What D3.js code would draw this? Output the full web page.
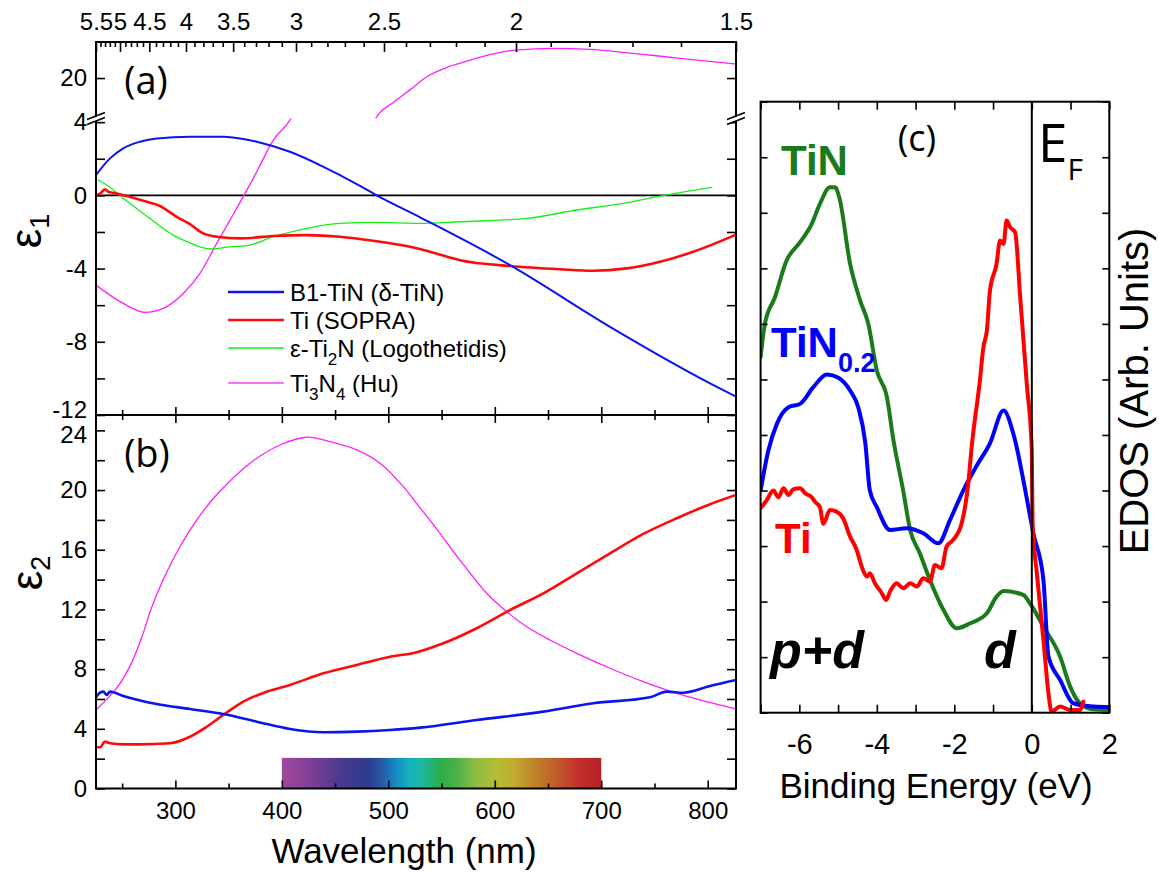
<!DOCTYPE html>
<html><head><meta charset="utf-8">
<script src="https://cdn.jsdelivr.net/npm/d3@7"></script>
<style>
body{margin:0;background:#fff}
svg{display:block}
text{font-family:"Liberation Sans",Arial,sans-serif;fill:#000}
</style></head>
<body><svg id="chart" width="1159" height="875"></svg>
<script>
// ---------------- DATA ----------------
// Panel (a): epsilon1 vs wavelength (nm)
const tinE1 = [[225.4,1.11],[238.6,2.02],[251.0,2.57],[266.7,2.93],[282.4,3.11],[313.7,3.2],[345.0,3.2],[360.7,3.11],[376.4,2.93],[407.6,2.38],[439.1,1.56],[470.3,0.62],[489.1,0],[529.8,-1.2],[614.3,-3.81],[708.2,-7.18],[802.2,-10.27],[826.6,-11.0]];
const tiE1 = [[225.4,0.02],[229.2,0.1],[233.9,0.33],[237.0,0.2],[241.7,0.14],[254.2,-0.04],[269.8,-0.3],[285.5,-0.58],[301.2,-1.17],[313.7,-1.57],[326.2,-2.08],[338.8,-2.26],[360.7,-2.35],[392.0,-2.22],[423.3,-2.17],[454.6,-2.26],[485.9,-2.48],[520.4,-2.81],[539.1,-3.08],[567.3,-3.54],[614.3,-3.86],[661.3,-4.04],[692.5,-4.12],[723.9,-3.99],[755.2,-3.63],[786.5,-3.08],[825.6,-2.17]];
const ti2nE1 = [[227.6,0.84],[238.6,0.44],[251.0,-0.16],[276.1,-1.26],[298.0,-2.17],[313.7,-2.59],[332.5,-2.93],[351.3,-2.81],[367.0,-2.75],[392.0,-2.26],[423.3,-1.8],[454.6,-1.53],[485.9,-1.48],[529.8,-1.53],[567.3,-1.44],[630.0,-1.26],[677.0,-0.8],[720.7,-0.44],[755.2,-0.04],[803.8,0.44]];
const ti3n4E1 = [[225.4,-4.9],[251.0,-5.9],[271.4,-6.39],[288.6,-6.17],[307.4,-5.36],[323.1,-4.26],[338.8,-2.62],[351.3,-1.35],[364.4,0],[376.4,1.29],[392.0,3.02],[407.6,4.11],[449.9,11.0],[491.4,18.07],[503.6,18.62],[520.0,19.34],[536.2,20.07],[556.6,20.62],[577.0,20.98],[597.4,21.31],[619.7,21.53],[654.7,21.62],[689.5,21.57],[729.8,21.35],[774.0,21.08],[826.6,20.77]];
// Panel (b): epsilon2 vs wavelength (nm)
const tinE2 = [[225.4,6.11],[229.2,6.42],[232.3,6.49],[235.5,6.27],[238.6,6.49],[251.0,6.2],[282.4,5.66],[313.7,5.33],[345.0,4.99],[376.4,4.48],[407.6,3.99],[439.1,3.77],[470.3,3.81],[501.6,3.92],[529.8,4.08],[583.0,4.59],[645.6,5.15],[692.5,5.71],[745.8,6.11],[761.5,6.49],[777.1,6.42],[802.2,6.87],[826.6,7.27]];
const tiE2 = [[225.4,2.8],[229.2,2.76],[233.9,3.14],[238.6,3.03],[251.0,2.96],[266.7,2.96],[294.9,3.03],[313.7,3.47],[329.4,4.14],[345.0,4.93],[363.8,5.82],[385.7,6.49],[407.6,6.94],[439.1,7.72],[470.3,8.28],[501.6,8.83],[525.0,9.1],[551.6,9.73],[583.0,10.74],[614.3,11.96],[645.6,13.08],[677.0,14.42],[708.2,15.76],[739.5,17.06],[770.9,18.11],[802.2,19.05],[826.6,19.67]];
const ti3n4E2 = [[225.4,5.26],[244.8,6.72],[257.3,8.2],[268.3,10.1],[277.0,12.0],[288.0,13.9],[302.7,16.0],[323.1,18.3],[340.3,19.8],[370.1,21.8],[398.2,23.02],[423.3,23.54],[445.2,23.24],[470.3,22.69],[492.2,21.8],[514.1,20.23],[529.8,18.8],[539.1,17.99],[567.3,15.31],[592.4,13.08],[611.2,11.85],[630.0,10.84],[651.9,9.95],[677.0,9.06],[708.2,8.06],[739.5,7.16],[770.9,6.38],[826.6,5.33]];
// Panel (c): EDOS vs binding energy (eV)
const tinDos = [[-7.0,6.4],[-6.89,7.0],[-6.63,7.48],[-6.33,8.14],[-5.98,8.47],[-5.68,8.8],[-5.47,9.16],[-5.21,9.46],[-5.08,9.46],[-4.97,9.28],[-4.69,8.08],[-4.43,7.42],[-4.22,7.0],[-4.0,6.16],[-3.74,5.68],[-3.57,4.9],[-3.32,4.0],[-3.14,3.29],[-2.89,2.87],[-2.63,2.39],[-2.28,1.85],[-1.94,1.52],[-1.59,1.61],[-1.16,1.79],[-0.91,2.09],[-0.73,2.19],[-0.22,2.12],[-0.05,1.97],[0.3,1.55],[0.73,1.01],[0.99,0.47],[1.24,0.17],[1.59,0.06],[2.0,0.05]];
const tin02Dos = [[-7.0,4.0],[-6.8,4.72],[-6.58,5.2],[-6.28,5.5],[-5.98,5.56],[-5.64,5.86],[-5.29,6.09],[-4.99,6.03],[-4.69,5.8],[-4.48,5.5],[-4.3,4.87],[-4.18,4.0],[-4.0,3.7],[-3.66,3.29],[-3.23,3.32],[-2.8,3.23],[-2.41,3.05],[-2.11,3.47],[-1.77,4.0],[-1.42,4.45],[-1.08,4.85],[-0.73,5.44],[-0.48,5.03],[-0.39,4.78],[-0.22,4.19],[0.04,3.23],[0.3,2.39],[0.43,1.01],[0.73,0.59],[1.07,0.17],[1.59,0.11],[2.0,0.1]];
const tiDos = [[-7.0,3.68],[-6.84,3.83],[-6.67,4.0],[-6.54,3.88],[-6.41,4.04],[-6.28,3.92],[-6.16,4.02],[-5.98,4.04],[-5.85,3.95],[-5.68,3.88],[-5.6,3.8],[-5.47,3.7],[-5.38,3.4],[-5.21,3.65],[-5.04,3.62],[-4.87,3.5],[-4.69,3.17],[-4.52,2.93],[-4.39,2.63],[-4.26,2.45],[-4.18,2.51],[-4.05,2.33],[-3.87,2.15],[-3.76,2.03],[-3.66,2.18],[-3.49,2.33],[-3.32,2.24],[-3.14,2.33],[-2.97,2.27],[-2.8,2.42],[-2.63,2.36],[-2.5,2.66],[-2.33,2.6],[-2.2,2.99],[-2.03,3.11],[-1.81,3.41],[-1.64,4.13],[-1.55,4.8],[-1.34,5.98],[-1.25,6.58],[-1.16,6.88],[-1.08,7.6],[-0.91,8.08],[-0.82,8.5],[-0.73,8.44],[-0.65,8.86],[-0.56,8.74],[-0.43,8.65],[-0.3,7.48],[-0.13,5.92],[0.0,4.72],[0.02,3.4],[0.13,2.51],[0.3,1.31],[0.43,0.35],[0.51,0.02],[0.73,0.11],[0.99,0.05],[1.24,0.05],[1.33,0.2]];

// Tick values / labels
const nmMajor = [300,400,500,600,700,800];
const nmMinor = [250,350,450,550,650,750];
const evMajor = [5.5,5,4.5,4,3.5,3,2.5,2,1.5];
const evMinor = d3.range(16,55).map(d=>d/10).filter(e=>Math.abs(e*2-Math.round(e*2))>1e-6);
const e1Major = [-12,-8,-4,0,4];
const e1Minor = [-10,-6,-2,2];
const e1UpperMajor = [20];
const e2Major = [0,4,8,12,16,20,24];
const e2Minor = [2,6,10,14,18,22];
const beMajor = [-6,-4,-2,0,2];
const beMinor = [-7,-5,-3,-1,1];
const dosTicks = d3.range(0,12);
const rainbowStops = [[400,"#a1489b"],[425,"#823f97"],[455,"#4b3a8d"],[480,"#2e3b8e"],[492,"#2a52a2"],[505,"#1585c2"],[520,"#15b3be"],[532,"#1cb9a0"],[548,"#2aad4b"],[562,"#45b148"],[582,"#8dbd43"],[602,"#b5bc33"],[618,"#c1ab30"],[640,"#c07d2a"],[660,"#c0582b"],[680,"#bf2d2a"],[700,"#b72127"]];

// ---------------- SCALES ----------------
const hc = 1239.84;
const x = d3.scaleLinear().domain([hc/5.5, hc/1.5]).range([96, 736]);
const yA = d3.scaleLinear().domain([-12, 4.2]).range([415, 118.5]);
const yAu = d3.scaleLinear().domain([17.79, 21.97]).range([118.5, 42]);
const yB = d3.scaleLinear().domain([0, 25.03]).range([788.5, 415]);
const xC = d3.scaleLinear().domain([-7, 2]).range([760.6, 1109.3]);
const yC = d3.scaleLinear().domain([0, 11]).range([712.7, 101.7]);

const svg = d3.select("#chart");
const defs = svg.append("defs");
function clip(id, x0, y0, x1, y1){
  defs.append("clipPath").attr("id", id).append("rect")
    .attr("x", x0).attr("y", y0).attr("width", x1-x0).attr("height", y1-y0);
}
clip("cA", x.range()[0], yA.range()[1], x.range()[1], yA.range()[0]);
clip("cAu", x.range()[0], yAu.range()[1], x.range()[1], yAu.range()[0]);
clip("cB", x.range()[0], yB.range()[1], x.range()[1], yB.range()[0]);
clip("cC", xC.range()[0], yC.range()[1], xC.range()[1], yC.range()[0]);

// rainbow bar
const grad = defs.append("linearGradient").attr("id","rainbow").attr("x1","0%").attr("x2","100%").attr("y1","0%").attr("y2","0%");
rainbowStops.forEach(s=>grad.append("stop").attr("offset", ((s[0]-400)/300*100)+"%").attr("stop-color", s[1]));
svg.append("rect").attr("x", x(400)).attr("width", x(700)-x(400))
  .attr("y", yB(2.05)).attr("height", yB(0)-yB(2.05)).attr("fill","url(#rainbow)");

// zero line in (a)
svg.append("line").attr("x1", x.range()[0]).attr("x2", x.range()[1])
  .attr("y1", yA(0)).attr("y2", yA(0)).attr("stroke","#000").attr("stroke-width",1.6);

// ---------------- CURVES ----------------
function drawLine(data, xs, ys, clipId, color, width, curve){
  svg.append("path").datum(data)
    .attr("clip-path", `url(#${clipId})`)
    .attr("fill","none").attr("stroke", color).attr("stroke-width", width)
    .attr("stroke-linejoin","round").attr("stroke-linecap","round")
    .attr("d", d3.line().x(d=>xs(d[0])).y(d=>ys(d[1])).curve(curve || d3.curveMonotoneX));
}
const BLUE="#0a14f0", RED="#ff0a0a", LGREEN="#14f014", MAG="#ff1eff", DGREEN="#1a7b1a";
drawLine(ti3n4E1, x, yA, "cA", MAG, 1.3);
drawLine(ti3n4E1, x, yAu, "cAu", MAG, 1.3);
drawLine(ti2nE1, x, yA, "cA", LGREEN, 1.3);
drawLine(tiE1, x, yA, "cA", RED, 2.6);
drawLine(tinE1, x, yA, "cA", BLUE, 2);

drawLine(ti3n4E2, x, yB, "cB", MAG, 1.3, d3.curveCatmullRom.alpha(0.5));
drawLine(tiE2, x, yB, "cB", RED, 2.6);
drawLine(tinE2, x, yB, "cB", BLUE, 2.6);

drawLine(tinDos, xC, yC, "cC", DGREEN, 4, d3.curveMonotoneX);
drawLine(tin02Dos, xC, yC, "cC", "#0000ff", 4, d3.curveMonotoneX);
drawLine(tiDos, xC, yC, "cC", "#ff0000", 4, d3.curveMonotoneX);

// E_F line
svg.append("line").attr("x1", xC(0)).attr("x2", xC(0)).attr("y1", yC(0)).attr("y2", yC(11))
  .attr("stroke","#000").attr("stroke-width",2);

// ---------------- AXES ----------------
function axis(gen, scale, vals, size, fmt, fs, pad, tx, ty){
  const a = gen(scale).tickValues(vals).tickSizeInner(size).tickSizeOuter(0).tickPadding(pad)
    .tickFormat(fmt || (()=>""));
  const g = svg.append("g").attr("transform",`translate(${tx},${ty})`).call(a);
  g.select(".domain").remove();
  g.selectAll(".tick line").attr("stroke","#000").attr("stroke-width",1.6);
  g.selectAll(".tick text").attr("font-size", fs).attr("fill","#000")
    .style("font-family", '"Liberation Sans",Arial,sans-serif');
  return g;
}
const L=x.range()[0], R=x.range()[1];
// bottom wavelength axis
axis(d3.axisBottom, x, nmMajor, -8, d=>d, 24, 13, 0, yB(0));
axis(d3.axisBottom, x, nmMinor, -5, null, 24, 13, 0, yB(0));
// shared border between (a) and (b)
axis(d3.axisBottom, x, nmMajor, 8, null, 24, 13, 0, yB.range()[1]);
axis(d3.axisBottom, x, nmMinor, 5, null, 24, 13, 0, yB.range()[1]);
axis(d3.axisTop, x, nmMajor, 8, null, 24, 13, 0, yA.range()[0]);
axis(d3.axisTop, x, nmMinor, 5, null, 24, 13, 0, yA.range()[0]);
// top eV axis
axis(d3.axisTop, x, evMajor.map(e=>hc/e), -10, (d,i)=>String(evMajor[i]), 24, 12, 0, yAu.range()[1]);
axis(d3.axisTop, x, evMinor.map(e=>hc/e), -5, null, 24, 12, 0, yAu.range()[1]);
// left / right axes (a)
const gA = axis(d3.axisLeft, yA, e1Major, -9, d=>d, 24, 9, L, 0);
gA.selectAll(".tick text").filter(d=>d===-12).attr("dy","0.12em");
axis(d3.axisLeft, yA, e1Minor, -9, null, 24, 9, L, 0);
axis(d3.axisLeft, yAu, e1UpperMajor, -9, d=>d, 24, 9, L, 0);
axis(d3.axisRight, yA, e1Major.concat(e1Minor), -9, null, 24, 9, R, 0);
axis(d3.axisRight, yAu, e1UpperMajor, -9, null, 24, 9, R, 0);
// left / right axes (b)
const gB = axis(d3.axisLeft, yB, e2Major, -9, d=>d, 24, 9, L, 0);
gB.selectAll(".tick text").filter(d=>d===24).attr("dy","0.5em");
axis(d3.axisLeft, yB, e2Minor, -9, null, 24, 9, L, 0);
axis(d3.axisRight, yB, e2Major.concat(e2Minor), -9, null, 24, 9, R, 0);
// panel (c)
axis(d3.axisBottom, xC, beMajor, -8, d=>d, 29, 21, 0, yC(0));
axis(d3.axisBottom, xC, beMinor, -8, null, 29, 21, 0, yC(0));
axis(d3.axisTop, xC, beMajor.concat(beMinor), -8, null, 29, 21, 0, yC(11));
axis(d3.axisLeft, yC, dosTicks, -7, null, 29, 9, xC(-7), 0);
axis(d3.axisRight, yC, dosTicks, -7, null, 29, 9, xC(2), 0);

// frames
function frame(x0,y0,x1,y1){
  svg.append("rect").attr("x",x0).attr("y",y0).attr("width",x1-x0).attr("height",y1-y0)
    .attr("fill","none").attr("stroke","#000").attr("stroke-width",2);
}
frame(L, yAu.range()[1], R, yA.range()[0]);
frame(L, yB.range()[1], R, yB.range()[0]);
frame(xC.range()[0], yC.range()[1], xC.range()[1], yC.range()[0]);

// axis break marks
[L, R].forEach(ax=>{
  const yb = yA.range()[1];
  svg.append("polygon").attr("points",`${ax-9},${yb+2} ${ax+9},${yb-5} ${ax+9},${yb-1} ${ax-9},${yb+6}`).attr("fill","#fff");
  [0,5].forEach(o=>svg.append("line").attr("x1",ax-9).attr("y1",yb+1+o).attr("x2",ax+9).attr("y2",yb-6+o)
    .attr("stroke","#000").attr("stroke-width",1.6));
});

// ---------------- TEXT ----------------
svg.append("text").attr("x",404).attr("y",863).attr("text-anchor","middle")
  .attr("font-size",35).text("Wavelength (nm)");
const e1 = svg.append("text").attr("transform",`translate(41,231) rotate(-90)`).attr("text-anchor","middle").attr("font-size",44);
e1.append("tspan").text("ε"); e1.append("tspan").attr("font-size",27).attr("dy",8).text("1");
const e2 = svg.append("text").attr("transform",`translate(42,573) rotate(-90)`).attr("text-anchor","middle").attr("font-size",44);
e2.append("tspan").text("ε"); e2.append("tspan").attr("font-size",27).attr("dy",8).text("2");

const OS = '"Open Sans","Noto Sans",sans-serif';
svg.append("text").attr("x",146).attr("y",94).attr("text-anchor","middle").attr("font-size",38).style("font-family",OS).text("(a)");
svg.append("text").attr("x",147).attr("y",467).attr("text-anchor","middle").attr("font-size",38).style("font-family",OS).text("(b)");
svg.append("text").attr("x",917).attr("y",151).attr("text-anchor","middle").attr("font-size",36).style("font-family",OS).text("(c)");
const ef = svg.append("text").attr("x",1038).attr("y",162).attr("font-size",53).style("font-family",OS);
ef.append("tspan").text("E"); ef.append("tspan").attr("font-size",30).attr("dy",18).text("F");

// legend
const legend = [
  {c:BLUE, w:2.4, y:292, parts:[["B1-TiN (δ-TiN)"]]},
  {c:RED, w:2.6, y:320, parts:[["Ti (SOPRA)"]]},
  {c:LGREEN, w:1.5, y:348, parts:[["ε-Ti"],["2","sub"],["N (Logothetidis)"]]},
  {c:"#ff70ff", w:2, y:383, parts:[["Ti"],["3","sub"],["N"],["4","sub"],[" (Hu)"]]}
];
legend.forEach(l=>{
  svg.append("line").attr("x1",228).attr("x2",284).attr("y1",l.y).attr("y2",l.y).attr("stroke",l.c).attr("stroke-width",l.w);
  const t = svg.append("text").attr("x",290).attr("y",l.y+8.5).attr("font-size",24);
  let sub=false;
  l.parts.forEach(p=>{
    const s = t.append("tspan").text(p[0]);
    if(p[1]==="sub"){ s.attr("font-size",17).attr("dy",8); sub=true; }
    else if(sub){ s.attr("dy",-8); sub=false; }
  });
});

// panel (c) labels
svg.append("text").attr("x",936).attr("y",798).attr("text-anchor","middle").attr("font-size",35).text("Binding Energy (eV)");
svg.append("text").attr("transform","translate(1148,391) rotate(-90)").attr("text-anchor","middle").attr("font-size",40).text("EDOS (Arb. Units)");
svg.append("text").attr("x",781).attr("y",175).attr("font-size",42).attr("font-weight","bold").style("fill",DGREEN).text("TiN");
const t02 = svg.append("text").attr("x",771).attr("y",357).attr("font-size",42).attr("font-weight","bold").style("fill","#0000ff");
t02.append("tspan").text("TiN"); t02.append("tspan").attr("font-size",27).attr("dy",15).text("0.2");
svg.append("text").attr("x",775).attr("y",553).attr("font-size",42).attr("font-weight","bold").style("fill","#ff0000").text("Ti");
svg.append("text").attr("x",770).attr("y",668).attr("font-size",52).attr("font-weight","bold").attr("font-style","italic").text("p+d");
svg.append("text").attr("x",984).attr("y",668).attr("font-size",52).attr("font-weight","bold").attr("font-style","italic").text("d");
</script></body></html>
